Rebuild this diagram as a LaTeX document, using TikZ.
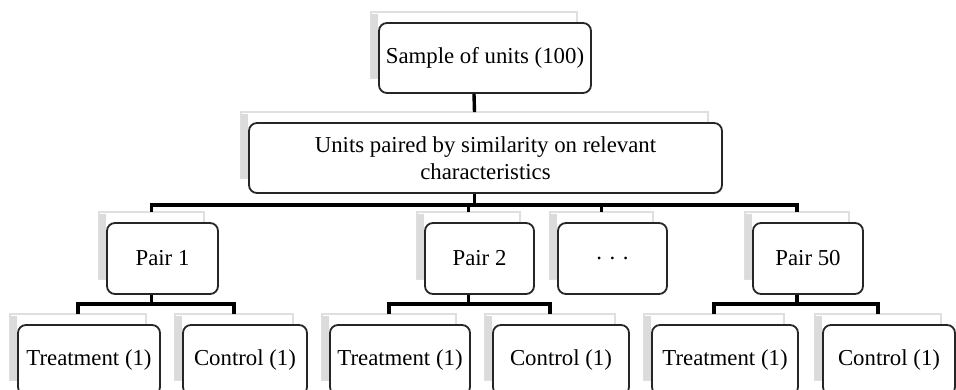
\documentclass[tikz,border=0pt]{standalone}
\usepackage{fontspec}
\setmainfont{Liberation Serif}
\usetikzlibrary{calc,backgrounds}

\begin{document}
\begin{tikzpicture}[x=1pt,y=-1pt,
    box/.style={draw=black!85,line width=1.8pt,rounded corners=8pt,fill=white,align=center,
      font=\fontsize{22.8}{27}\selectfont,inner sep=0pt,minimum height=70pt},
    ghost/.style={draw=gray!25,line width=1.5pt,fill=white},
    link/.style={line width=3.4pt}]
  \clip (0,0) rectangle (956,389);
  % levels
  \node[box,minimum width=212pt] (top) at (485,58) {Sample of units (100)};
  \node[box,minimum width=473pt] (mid) at (485.5,158) {Units paired by similarity on relevant\\characteristics};
  \node[box,minimum width=111pt,minimum height=71pt] (p1) at (162.5,258.5) {Pair 1};
  \node[box,minimum width=109pt,minimum height=71pt] (p2) at (479.5,258.5) {Pair 2};
  \node[box,minimum width=109pt,minimum height=71pt] (dots) at (612.5,258.5) {. . .};
  \node[box,minimum width=110pt,minimum height=71pt] (p50) at (808,258.5) {Pair 50};
  \node[box,minimum width=142pt] (t1) at (89,360) {Treatment (1)};
  \node[box,minimum width=124pt] (c1) at (245,360) {Control (1)};
  \node[box,minimum width=140pt] (t2) at (400,360) {Treatment (1)};
  \node[box,minimum width=136pt] (c2) at (561,360) {Control (1)};
  \node[box,minimum width=146pt] (t3) at (725,360) {Treatment (1)};
  \node[box,minimum width=132pt] (c3) at (889,360) {Control (1)};
  % back plates
  \begin{scope}[on background layer]
    \foreach \n in {top,mid,p1,p2,dots,p50,t1,c1,t2,c2,t3,c3} {
      \draw[ghost] ($(\n.north west)+(-7,-10)$) rectangle ($(\n.south east)+(-15,-16)$);
      \fill[gray!28] ($(\n.north west)+(-7,-8)$) rectangle ($(\n.south west)+(0,-16)$);
      \coordinate (\n-in) at ($(\n.north)+(-11,-10)$);
    }
  \end{scope}
  % connectors
  \draw[link] (top.south -| top-in) -- (mid-in);
  \foreach \k in {p1,p2,dots,p50}
    \draw[link] (mid.south -| mid-in) -- ++(0,11) -| (\k-in);
  \draw[link] (p1.south -| p1-in) -- ++(0,9) -| (t1-in);
  \draw[link] (p1.south -| p1-in) -- ++(0,9) -| (c1-in);
  \draw[link] (p2.south -| p2-in) -- ++(0,9) -| (t2-in);
  \draw[link] (p2.south -| p2-in) -- ++(0,9) -| (c2-in);
  \draw[link] (p50.south -| p50-in) -- ++(0,9) -| (t3-in);
  \draw[link] (p50.south -| p50-in) -- ++(0,9) -| (c3-in);
\end{tikzpicture}
\end{document}
